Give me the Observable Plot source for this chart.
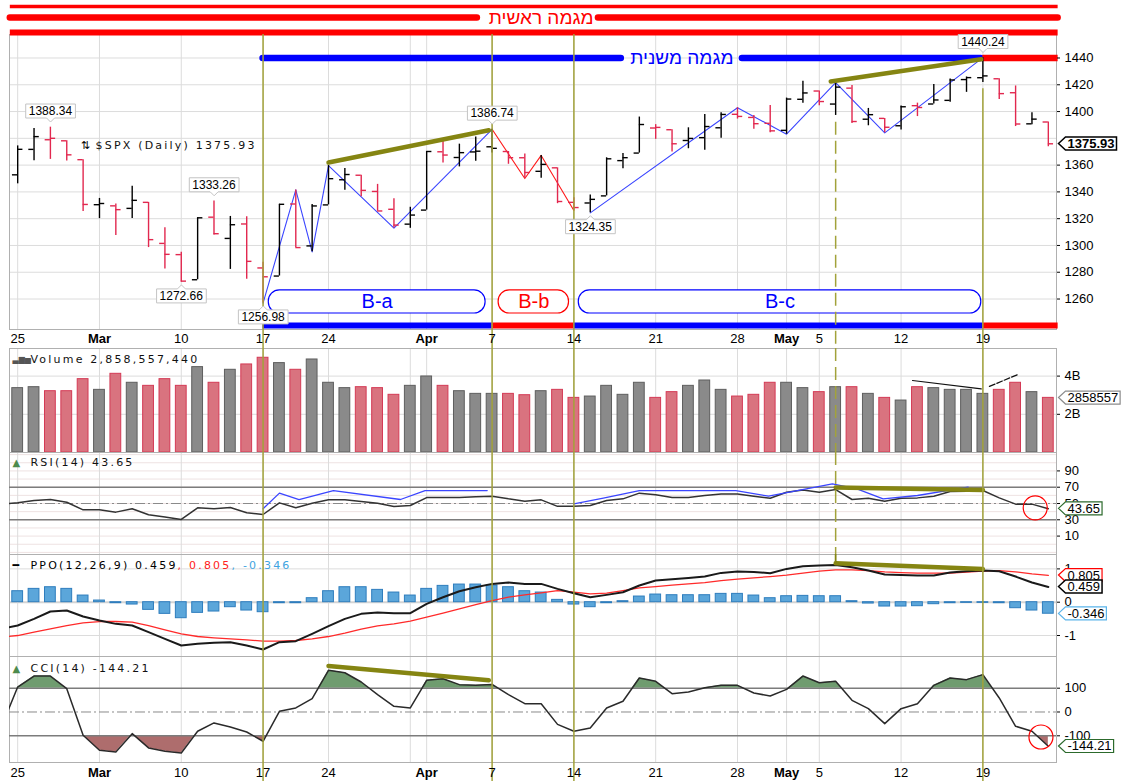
<!DOCTYPE html>
<html lang="en">
<head>
<meta charset="utf-8">
<title>$SPX daily</title>
<script src="https://cdn.jsdelivr.net/npm/d3@7"></script>
<script src="https://cdn.jsdelivr.net/npm/@observablehq/plot@0.6"></script>
<style>
html,body{margin:0;padding:0;background:#fff;}
#chart{position:relative;width:1122px;height:781px;overflow:hidden;background:#fff;}
#chart svg{position:absolute;left:0;overflow:visible;}
</style>
</head>
<body>
<div id="chart"></div>
<script>
// ---------------- DATA ----------------
const dates = ["2008-02-25","2008-02-26","2008-02-27","2008-02-28","2008-02-29",
"2008-03-03","2008-03-04","2008-03-05","2008-03-06","2008-03-07","2008-03-10","2008-03-11","2008-03-12","2008-03-13","2008-03-14","2008-03-17","2008-03-18","2008-03-19","2008-03-20","2008-03-24","2008-03-25","2008-03-26","2008-03-27","2008-03-28","2008-03-31",
"2008-04-01","2008-04-02","2008-04-03","2008-04-04","2008-04-07","2008-04-08","2008-04-09","2008-04-10","2008-04-11","2008-04-14","2008-04-15","2008-04-16","2008-04-17","2008-04-18","2008-04-21","2008-04-22","2008-04-23","2008-04-24","2008-04-25","2008-04-28","2008-04-29","2008-04-30",
"2008-05-01","2008-05-02","2008-05-05","2008-05-06","2008-05-07","2008-05-08","2008-05-09","2008-05-12","2008-05-13","2008-05-14","2008-05-15","2008-05-16","2008-05-19","2008-05-20","2008-05-21","2008-05-22","2008-05-23"];

const open = [1352.75,1371.76,1378.95,1378.16,1364.07,
1330.45,1329.58,1327.69,1332.20,1301.53,1293.16,1274.40,1321.13,1305.26,1316.05,1283.21,1277.16,1330.97,1299.67,1330.29,1349.07,1352.45,1340.34,1327.02,1315.92,
1326.41,1369.96,1365.69,1369.85,1373.69,1370.16,1365.50,1355.37,1357.98,1332.20,1331.72,1337.02,1363.37,1369.00,1387.72,1386.43,1378.40,1380.52,1387.88,1397.96,1395.61,1391.22,
1385.97,1409.16,1415.34,1405.60,1417.49,1394.29,1394.90,1389.40,1404.40,1405.65,1408.36,1423.89,1425.28,1424.49,1414.06,1390.83,1392.20];
const high = [1374.36,1387.34,1388.34,1378.16,1364.07,
1335.13,1331.03,1344.19,1332.20,1313.24,1295.01,1320.65,1333.26,1321.68,1321.47,1287.50,1330.74,1341.51,1330.67,1359.68,1357.47,1352.45,1345.62,1334.87,1328.52,
1370.18,1377.95,1375.66,1380.91,1386.74,1370.16,1368.39,1367.24,1357.98,1335.64,1337.72,1365.49,1368.60,1395.90,1390.23,1386.43,1387.87,1397.72,1399.11,1402.90,1397.00,1404.57,
1410.07,1422.72,1415.34,1421.57,1419.54,1402.35,1394.90,1404.06,1406.30,1420.19,1424.40,1425.82,1440.24,1424.49,1419.12,1399.07,1392.20];
const low = [1346.03,1363.29,1364.27,1363.16,1325.42,
1320.04,1307.39,1320.22,1298.42,1282.43,1272.66,1274.40,1307.86,1282.11,1274.86,1256.98,1277.16,1298.42,1295.22,1330.29,1341.21,1336.41,1325.66,1312.95,1312.81,
1326.41,1361.55,1358.68,1362.83,1369.02,1360.62,1349.97,1350.11,1331.21,1326.16,1324.35,1337.02,1357.25,1369.00,1379.25,1369.84,1372.24,1371.09,1379.98,1394.40,1386.70,1384.25,
1383.07,1406.25,1404.37,1397.10,1391.16,1389.39,1384.11,1386.20,1396.26,1405.65,1406.87,1414.35,1421.63,1409.09,1388.81,1390.23,1373.72];
const close = [1371.80,1381.29,1380.02,1367.68,1330.63,
1331.34,1326.75,1333.70,1304.34,1293.37,1273.37,1320.65,1308.77,1315.48,1288.14,1276.60,1330.74,1298.42,1329.51,1349.88,1352.99,1341.13,1325.76,1315.22,1322.70,
1370.18,1367.53,1369.31,1370.40,1372.54,1365.54,1354.49,1360.55,1332.83,1328.32,1334.43,1364.71,1365.56,1390.33,1388.17,1375.94,1379.93,1388.82,1397.84,1396.37,1390.94,1385.59,
1409.34,1413.90,1407.49,1418.26,1392.57,1397.68,1388.28,1403.58,1403.04,1408.66,1423.57,1425.35,1426.63,1413.40,1390.71,1394.35,1375.93];
const prevClose = 1353.11;

// volume in billions of shares
const volumeB = [3.37,3.42,3.21,3.21,3.84,
3.28,4.12,3.65,3.49,3.84,3.49,4.47,3.65,4.33,4.61,4.96,4.68,4.33,4.87,3.65,3.37,3.42,3.37,3.02,3.49,
3.98,3.49,3.21,3.07,3.07,3.07,3.00,3.21,3.28,2.86,2.93,3.49,3.02,3.65,2.86,3.16,3.49,3.77,3.28,2.93,3.02,3.65,
3.65,3.37,3.16,3.42,3.42,3.07,2.86,2.72,3.42,3.37,3.28,3.28,3.07,3.28,3.65,3.16,2.86];

const rsi14 = [50.8,53.7,54.9,51.6,42.2,
42.2,39.4,43.5,36.1,33.3,30.4,44.7,43.5,45.1,38.6,36.5,50.8,44.7,50.4,54.5,54.5,52.4,50.4,46.3,47.6,
57.3,57.3,57.3,58.2,59.0,55.7,52.9,54.5,46.5,46.7,47.6,53.7,55.7,62.7,60.6,57.3,57.3,59.8,61.8,61.8,59.0,56.5,
63.9,66.7,63.9,67.1,54.9,56.5,52.9,56.5,56.9,59.0,64.7,65.1,65.9,56.9,49.2,49.2,43.65];

const ppoLine = [-0.70,-0.50,-0.28,-0.25,-0.43,
-0.55,-0.65,-0.70,-0.90,-1.10,-1.30,-1.25,-1.22,-1.20,-1.30,-1.42,-1.20,-1.17,-0.95,-0.72,-0.50,-0.35,-0.31,-0.33,-0.33,
-0.05,0.15,0.33,0.45,0.55,0.59,0.55,0.55,0.40,0.27,0.15,0.22,0.30,0.50,0.65,0.69,0.73,0.77,0.88,0.92,0.91,0.87,
1.00,1.08,1.10,1.12,1.05,0.95,0.83,0.82,0.80,0.80,0.89,0.93,0.95,0.93,0.77,0.59,0.459];
const ppoSignal = [-1.00,-0.90,-0.80,-0.70,-0.62,
-0.58,-0.58,-0.60,-0.70,-0.83,-0.95,-1.03,-1.07,-1.10,-1.13,-1.17,-1.17,-1.15,-1.10,-1.03,-0.93,-0.81,-0.71,-0.65,-0.57,
-0.45,-0.33,-0.20,-0.07,0.05,0.15,0.22,0.28,0.35,0.30,0.25,0.27,0.35,0.43,0.47,0.51,0.55,0.59,0.65,0.69,0.73,0.77,
0.81,0.87,0.93,0.97,0.97,0.95,0.91,0.89,0.87,0.87,0.87,0.90,0.93,0.95,0.91,0.85,0.805];
const ppoHist = [0.33,0.40,0.45,0.40,0.20,
0.05,-0.03,-0.07,-0.23,-0.35,-0.48,-0.32,-0.28,-0.15,-0.25,-0.30,-0.03,-0.03,0.12,0.33,0.45,0.45,0.37,0.29,0.20,
0.40,0.49,0.53,0.53,0.50,0.45,0.33,0.29,0.07,-0.07,-0.15,-0.03,0.03,0.17,0.23,0.21,0.21,0.21,0.25,0.25,0.20,0.12,
0.18,0.19,0.18,0.18,0.03,-0.04,-0.13,-0.13,-0.12,-0.06,-0.03,-0.02,-0.02,-0.03,-0.18,-0.25,-0.346];

const cci14 = [105,151,151,98,-98,
-161,-168,-91,-151,-165,-172,-81,-46,-63,-84,-123,3,17,56,175,165,126,73,24,17,
133,140,115,112,116,73,35,35,-52,-81,-67,17,45,143,129,77,84,102,112,112,80,67,
95,151,123,129,49,14,-49,14,35,112,143,136,157,59,-60,-81,-144.21];

// values of the day before the first shown day (lines enter from the left edge)
const leadRsi = 49.5, leadPpo = -0.80, leadSignal = -1.05, leadCci = -64;

// axis ticks / labels
const gridDays = [0,5,10,15,19,24,25,29,34,39,44,47,49,54,59];
const dayTickIdx = [0,10,15,19,29,34,39,44,49,54,59];
const dayTickLabels = ["25","10","17","24","7","14","21","28","5","12","19"];
const monthTickIdx = [5,25,47];
const monthTickLabels = ["Mar","Apr","May"];
const priceGrid = [1260,1280,1300,1320,1340,1360,1380,1400,1420,1440];
const priceTicks = [1260,1280,1300,1320,1340,1360,1400,1420,1440]; // 1380 sits under the last-price tag
const volTicks = [2,4];
const rsiTicks = [10,30,50,70,90];
const rsiBands = [30,70];
const ppoTicks = [1,0,-1];
const cciTicks = [100,0,-100];
const cciBands = [100,-100];

// titles
const priceTitle = "$SPX (Daily) 1375.93";
const volumeTitle = "Volume 2,858,557,440";
const rsiTitle = "RSI(14) 43.65";
const ppoTitleParts = ["PPO(12,26,9) 0.459", ", 0.805", ", -0.346"];
const cciTitle = "CCI(14) -144.21";
const lastVolumeB = 2.858557, lastVolumeLabel = "2858557";

// annotations (data units: x = trading-day index, y = indicator value)
const pivotDays = [15, 29, 34, 59];
const lateDayTopPrice = 1417;
const dashedDay = 50;
const dashedTopPrice = 1392;
const dashedPpoEnd = 1.17;

const primaryTrendText = "מגמה ראשית";
const primaryTrendLevels = [1478.5, 1470.2, 1459.0];
const primaryTrendSpan = [-0.45, 63.6];
const primaryTrendGap = [28.1, 35.5];
const primaryTrendTextX = 32.0;

const secondaryTrendText = "מגמה משנית";
const secondaryTrendLevel = 1440;
const secondaryTrendBlue = [[15, 36.9], [44.3, 58.9]];
const secondaryTrendRed = [[59, 63.6]];
const secondaryTrendTextX = 40.6;

const phaseLevel = 1240.2;
const phaseUp = [[15, 29], [34, 59]];
const phaseDown = [[29, 34], [59, 63.6]];

const zigBlueA = [[15,1256.98],[17,1341.51],[18,1295.22],[19,1359.68],[23,1312.95],[29,1386.74]];
const zigRedB = [[29,1386.74],[31,1349.97],[32,1367.24],[34,1326.16]];
const zigBlueC = [[35,1324.35],[44,1402.90],[47,1383.07],[50,1421.57],[53,1384.11],[59,1440.24]];
const priceOliveA = [[19,1362],[28.8,1386]];
const priceOliveB = [[49.7,1422.5],[58.9,1439]];

const waves = ["B-a","B-b","B-c"];
const waveFrom = [15.35, 29.4, 34.3];
const waveTo = [28.6, 33.7, 58.9];
const waveLow = 1249.2, waveHigh = 1266.4;

const calloutHighDays = [2, 12, 29, 59];
const calloutLowDays = [10, 15, 35];

const volLineDown = [[54.7,3.77],[58.9,3.33]];
const volLineUp = [[59.4,3.46],[61.1,4.07]];

const rsiBlueA = [[15,43.5],[16,62.7],[17.2,54.9],[19.3,65.9],[23.4,54.9],[24.9,65.9],[28.7,65.9]];
const rsiBlueB = [[34,49.6],[35.8,56.5],[38,65.9],[43.9,65.9],[45.9,59],[49.8,74.1],[51.3,68],[52.9,55.7],[55,59.8],[58.1,70]];
const rsiOlive = [[50,69.5],[59,66.5]];
const rsiCircle = [[62.2,44.7]];

const ppoOlive = [[50,1.17],[59,1.0]];
const cciOlive = [[19,193],[28.8,133]];
const cciCircle = [[62.55,-105]];

// ---------------- STYLE ----------------
const FONT_UI = "'Liberation Sans', Arial, sans-serif";
const FONT_T = "'DejaVu Sans', Verdana, sans-serif";
const FONT_HE = "'Liberation Sans', 'DejaVu Sans', sans-serif";
const GRID = "#dcdcdc";
const FRAME = "#b0b0b0";
const OLIVE = "#858512";
const OLIVE_V = "#a2a23a";
const BLUE = "#0000ff";
const ZBLUE = "#3a45ff";
const RED = "#ff0000";
const UP = "#000000", DOWN = "#e2284f";
const X_DOMAIN = [-0.5, 63.5];

// ---------------- HELPERS ----------------
const chart = document.getElementById("chart");
const SVGNS = "http://www.w3.org/2000/svg";
const idx = dates.map((d, i) => i);
const isUp = i => close[i] >= (i ? close[i - 1] : prevClose);

function ext(domain, height, mt, mb) {
  const k = (domain[1] - domain[0]) / (height - mt - mb);
  return [domain[0] - mb * k, domain[1] + mt * k];
}
function build(height, mt, mb, domain, marks) {
  return Plot.plot({
    width: 1122, height, marginLeft: 9, marginRight: 66, marginTop: mt, marginBottom: mb,
    x: {domain: X_DOMAIN, axis: null},
    y: {domain, label: null},
    style: {fontFamily: FONT_UI, fontSize: "13px", background: "transparent", overflow: "visible", color: "#000"},
    marks
  });
}
function boxes(g, {stroke = "#c4c4c4", fill = "#fff", pointer = null, px = 3, py = 0, sw = 1}) {
  g.querySelectorAll("text").forEach(t => {
    const b = t.getBBox();
    const x0 = b.x - px, x1 = b.x + b.width + px, y0 = b.y - py, y1 = b.y + b.height + py;
    const mx = (x0 + x1) / 2, my = (y0 + y1) / 2;
    let d;
    if (pointer === "left") d = `M${x0 - 7},${my}L${x0},${y0}H${x1}V${y1}H${x0}Z`;
    else if (pointer === "down") d = `M${x0},${y0}H${x1}V${y1}H${mx + 4}L${mx},${y1 + 4}L${mx - 4},${y1}H${x0}Z`;
    else if (pointer === "up") d = `M${x0},${y0}H${mx - 4}L${mx},${y0 - 4}L${mx + 4},${y0}H${x1}V${y1}H${x0}Z`;
    else d = `M${x0},${y0}H${x1}V${y1}H${x0}Z`;
    const p = document.createElementNS(SVGNS, "path");
    p.setAttribute("d", d); p.setAttribute("fill", fill); p.setAttribute("stroke", stroke); p.setAttribute("stroke-width", sw);
    const tr = t.getAttribute("transform"); if (tr) p.setAttribute("transform", tr);
    t.parentNode.insertBefore(p, t);
  });
}
function mount(svg, top) {
  svg.style.top = top + "px";
  chart.appendChild(svg);
  svg.querySelectorAll("g[aria-description]").forEach(g => {
    const desc = g.getAttribute("aria-description");
    if (desc === "ppotitle") {
      const t = g.querySelector("text");
      const colors = ["#000000", "#ff2020", "#3fa3e0"];
      t.textContent = "";
      ppoTitleParts.forEach((s, k) => {
        const ts = document.createElementNS(SVGNS, "tspan");
        ts.textContent = s; ts.setAttribute("fill", colors[k]); t.appendChild(ts);
      });
    }
    if (desc === "title" || desc === "ppotitle") g.querySelectorAll("text").forEach(t => t.setAttribute("letter-spacing", "2.2"));
    if (desc.startsWith("tag:")) boxes(g, {stroke: desc.slice(4), pointer: "left", px: 2, py: -1, sw: desc.endsWith("#000") ? 1.5 : 1.2});
    if (desc === "callout-down") boxes(g, {pointer: "down"});
    if (desc === "callout-up") boxes(g, {pointer: "up"});
  });
  return svg;
}
const P2 = {x: d => d[0], y: d => d[1]};
function tag(value, label, color, bold) {
  return Plot.text([label], {y: value, text: d => d, frameAnchor: "right", dx: 11, textAnchor: "start",
    fontSize: 13, fontWeight: bold ? "bold" : "normal", fill: "#000", ariaDescription: "tag:" + color});
}
function title(str, dy) {
  return Plot.text([str], {text: d => d, frameAnchor: "top-left", dx: 21, dy, lineAnchor: "middle", textAnchor: "start",
    fontFamily: FONT_T, fontSize: 11, fill: "#111", ariaDescription: "title"});
}
function icon(glyph, dy, color, size) {
  return Plot.text([glyph], {text: d => d, frameAnchor: "top-left", dx: 3, dy, lineAnchor: "middle", textAnchor: "start",
    fontFamily: FONT_T, fontSize: size, fill: color});
}
function yAxis(ticks, fmt) {
  return Plot.axisY(ticks, {anchor: "right", label: null, tickSize: 3, tickPadding: 5, fontSize: 13, tickFormat: fmt || (d => String(d))});
}
function dateLabels(dy) {
  return [
    Plot.text(dayTickIdx, {x: d => d, text: (d, k) => dayTickLabels[k], frameAnchor: "bottom", lineAnchor: "middle", dy, fontSize: 13}),
    Plot.text(monthTickIdx, {x: d => d, text: (d, k) => monthTickLabels[k], frameAnchor: "bottom", lineAnchor: "middle", dy, fontSize: 13, fontWeight: "bold"})
  ];
}
function bandPoints(xs, vs, thr, above) {
  const pts = [];
  for (let k = 0; k < vs.length; k++) {
    if (k > 0) {
      const u = vs[k - 1], v = vs[k];
      if ((u - thr) * (v - thr) < 0) {
        const t = (thr - u) / (v - u);
        pts.push({x: xs[k - 1] + t * (xs[k] - xs[k - 1]), y: thr});
      }
    }
    pts.push({x: xs[k], y: above ? Math.max(vs[k], thr) : Math.min(vs[k], thr)});
  }
  return pts;
}
const withLead = (lead, arr) => [{i: -1, v: lead}, ...arr.map((v, i) => ({i, v}))];

// ---------------- PRICE PANEL ----------------
const bars = idx.map(i => ({i, o: open[i], h: high[i], l: low[i], c: close[i], up: isUp(i)}));
const upBars = bars.filter(d => d.up), dnBars = bars.filter(d => !d.up);
const P = {top: 0, h: 348, mt: 34, mb: 19, domain: [1237.24, 1457.55]};
const [pLo] = ext(P.domain, P.h, P.mt, P.mb);
const ohlc = (data, color) => [
  Plot.ruleX(data, {x: "i", y1: "l", y2: "h", stroke: color, strokeWidth: 1.4}),
  Plot.ruleY(data, {y: "o", x1: d => d.i - 0.32, x2: "i", stroke: color, strokeWidth: 1.4}),
  Plot.ruleY(data, {y: "c", x1: "i", x2: d => d.i + 0.32, stroke: color, strokeWidth: 1.4})
];
const waveRows = waves.map((w, k) => ({w, x1: waveFrom[k], x2: waveTo[k]}));
mount(build(P.h, P.mt, P.mb, P.domain, [
  Plot.ruleY(priceGrid, {stroke: GRID}),
  Plot.ruleX(gridDays, {stroke: GRID}),
  Plot.frame({stroke: FRAME}),
  // primary trend (top red lines)
  Plot.ruleY([primaryTrendLevels[0]], {x1: primaryTrendSpan[0], x2: primaryTrendSpan[1], stroke: RED, strokeWidth: 3.5}),
  Plot.ruleY([[primaryTrendSpan[0], primaryTrendGap[0]], [primaryTrendGap[1], primaryTrendSpan[1]]],
    {y: primaryTrendLevels[1], x1: d => d[0], x2: d => d[1], stroke: RED, strokeWidth: 6.5, strokeLinecap: "round"}),
  Plot.ruleY([primaryTrendLevels[2]], {x1: primaryTrendSpan[0], x2: primaryTrendSpan[1], stroke: RED, strokeWidth: 6}),
  Plot.text([primaryTrendText], {x: primaryTrendTextX, y: primaryTrendLevels[1], text: d => d, fill: RED, fontSize: 19, fontFamily: FONT_HE}),
  // secondary trend
  Plot.ruleY(secondaryTrendBlue, {y: secondaryTrendLevel, x1: d => d[0], x2: d => d[1], stroke: BLUE, strokeWidth: 6.5, strokeLinecap: "round"}),
  Plot.ruleY(secondaryTrendRed, {y: secondaryTrendLevel, x1: d => d[0], x2: d => d[1], stroke: RED, strokeWidth: 6.5}),
  Plot.text([secondaryTrendText], {x: secondaryTrendTextX, y: secondaryTrendLevel, text: d => d, fill: BLUE, fontSize: 19, fontFamily: FONT_HE}),
  // phase bar at bottom
  Plot.ruleY(phaseUp, {y: phaseLevel, x1: d => d[0], x2: d => d[1], stroke: BLUE, strokeWidth: 6}),
  Plot.ruleY(phaseDown, {y: phaseLevel, x1: d => d[0], x2: d => d[1], stroke: RED, strokeWidth: 6}),
  // wave boxes
  Plot.rect(waveRows, {x1: "x1", x2: "x2", y1: waveLow, y2: waveHigh, rx: 11, fill: "#fff",
    stroke: d => d.w === "B-b" ? "red" : "blue", strokeWidth: 1.2}),
  Plot.text(waveRows, {x: d => (d.x1 + d.x2) / 2, y: (waveLow + waveHigh) / 2, text: "w",
    fill: d => d.w === "B-b" ? "red" : "blue", fontSize: 20, fontFamily: FONT_UI}),
  // zigzags
  Plot.line(zigBlueA, {...P2, stroke: ZBLUE, strokeWidth: 1.1}),
  Plot.line(zigRedB, {...P2, stroke: "#ff1a1a", strokeWidth: 1.1}),
  Plot.line(zigBlueC, {...P2, stroke: ZBLUE, strokeWidth: 1.1}),
  // OHLC bars
  ...ohlc(upBars, UP),
  ...ohlc(dnBars, DOWN),
  // olive trend lines
  Plot.line(priceOliveA, {...P2, stroke: OLIVE, strokeWidth: 4.5}),
  Plot.line(priceOliveB, {...P2, stroke: OLIVE, strokeWidth: 4.5}),
  // olive verticals
  Plot.ruleX(pivotDays.slice(0, 3), {y1: P.domain[1], y2: pLo, stroke: OLIVE_V, strokeWidth: 1.5}),
  Plot.ruleX([pivotDays[3]], {y1: lateDayTopPrice, y2: pLo, stroke: OLIVE_V, strokeWidth: 1.5}),
  Plot.ruleX([dashedDay], {y1: dashedTopPrice, y2: pLo, stroke: OLIVE_V, strokeWidth: 1.5, strokeDasharray: "13,6"}),
  // callouts
  Plot.text(calloutHighDays, {x: d => d, y: d => high[d], text: d => high[d].toFixed(2), dy: -16, fontSize: 12, ariaDescription: "callout-down"}),
  Plot.text(calloutLowDays, {x: d => d, y: d => low[d], text: d => low[d].toFixed(2), dy: 14, fontSize: 12, ariaDescription: "callout-up"}),
  // title
  Plot.text(["⇅"], {x: 3.85, y: 1374.65, text: d => d, textAnchor: "start", fontFamily: FONT_T, fontSize: 11}),
  Plot.text([priceTitle], {x: 4.76, y: 1374.65, text: d => d, textAnchor: "start", fontFamily: FONT_T, fontSize: 11, fill: "#111", ariaDescription: "title"}),
  // axes
  yAxis(priceTicks),
  ...dateLabels(9.5),
  tag(close[63], close[63].toFixed(2), "#000", true)
]), P.top);

// ---------------- VOLUME PANEL ----------------
const vols = idx.map(i => ({i, v: volumeB[i], up: isUp(i)}));
const V = {top: 348, h: 104, domain: [0, 5.445]};
mount(build(V.h, 0, 0, V.domain, [
  Plot.ruleY(volTicks, {stroke: GRID}),
  Plot.ruleX(gridDays, {stroke: GRID}),
  Plot.frame({stroke: FRAME}),
  Plot.rect(vols.filter(d => d.up), {x1: d => d.i - 0.33, x2: d => d.i + 0.33, y1: 0, y2: "v", fill: "#8a8a8a", stroke: "#5e5e5e", strokeWidth: 1}),
  Plot.rect(vols.filter(d => !d.up), {x1: d => d.i - 0.33, x2: d => d.i + 0.33, y1: 0, y2: "v", fill: "#d9737f", stroke: "#d43a55", strokeWidth: 1}),
  Plot.line(volLineDown, {...P2, stroke: "#111", strokeWidth: 1.2}),
  Plot.line(volLineUp, {...P2, stroke: "#111", strokeWidth: 1.2, strokeDasharray: "6,2"}),
  Plot.ruleX(pivotDays, {stroke: OLIVE_V, strokeWidth: 1.5}),
  Plot.ruleX([dashedDay], {stroke: OLIVE_V, strokeWidth: 1.5, strokeDasharray: "13,6"}),
  yAxis(volTicks, d => d + "B"),
  icon("▃▆▅", 11, "#555", 8),
  title(volumeTitle, 11),
  tag(lastVolumeB, lastVolumeLabel, "#8c8c8c", false)
]), V.top);

// ---------------- RSI PANEL ----------------
const R = {top: 452, h: 102, domain: [-12.6, 112.6]};
mount(build(R.h, 0, 0, R.domain, [
  Plot.ruleY(d3.range(-10, 111, 10), {stroke: "#eee2e2"}),
  Plot.ruleX(gridDays, {stroke: GRID}),
  Plot.frame({stroke: FRAME}),
  Plot.ruleY(rsiBands, {stroke: "#7c7c7c", strokeWidth: 1.4}),
  Plot.ruleY([50], {stroke: "#8a8a8a", strokeWidth: 1, strokeDasharray: "10,3,2,3"}),
  Plot.line(withLead(leadRsi, rsi14), {x: "i", y: "v", stroke: "#333", strokeWidth: 1.5, clip: true}),
  Plot.line(rsiBlueA, {...P2, stroke: ZBLUE, strokeWidth: 1.3}),
  Plot.line(rsiBlueB, {...P2, stroke: ZBLUE, strokeWidth: 1.3}),
  Plot.line(rsiOlive, {...P2, stroke: OLIVE, strokeWidth: 4.5}),
  Plot.ruleX(pivotDays, {stroke: OLIVE_V, strokeWidth: 1.5}),
  Plot.ruleX([dashedDay], {stroke: OLIVE_V, strokeWidth: 1.5, strokeDasharray: "13,6"}),
  Plot.dot(rsiCircle, {...P2, r: 12, stroke: "red", strokeWidth: 1.2, fill: "none"}),
  yAxis(rsiTicks),
  icon("▲", 10, "#4c8a4c", 10),
  title(rsiTitle, 10),
  tag(rsi14[63], rsi14[63].toFixed(2), "#2c6a2c", false)
]), R.top);

// ---------------- PPO PANEL ----------------
const Q = {top: 554, h: 102, domain: [-1.63, 1.432]};
const hist = idx.map(i => ({i, h: ppoHist[i]}));
mount(build(Q.h, 0, 0, Q.domain, [
  Plot.ruleY([1, -1], {stroke: GRID}),
  Plot.ruleY([0], {stroke: "#d4d4d4", strokeWidth: 2}),
  Plot.ruleX(gridDays, {stroke: GRID}),
  Plot.frame({stroke: FRAME}),
  Plot.rect(hist, {x1: d => d.i - 0.33, x2: d => d.i + 0.33, y1: 0, y2: "h", fill: "#5ba6da", stroke: "#2e7dbd", strokeWidth: 1}),
  Plot.line(withLead(leadSignal, ppoSignal), {x: "i", y: "v", stroke: "#ff2a2a", strokeWidth: 1.3, clip: true}),
  Plot.line(withLead(leadPpo, ppoLine), {x: "i", y: "v", stroke: "#1a1a1a", strokeWidth: 2, clip: true}),
  Plot.line(ppoOlive, {...P2, stroke: OLIVE, strokeWidth: 4.5}),
  Plot.ruleX(pivotDays, {stroke: OLIVE_V, strokeWidth: 1.5}),
  Plot.ruleX([dashedDay], {y1: dashedPpoEnd, y2: Q.domain[1], stroke: OLIVE, strokeWidth: 1.8}),
  yAxis(ppoTicks),
  icon("━", 11, "#000", 11),
  Plot.text([ppoTitleParts.join("")], {text: d => d, frameAnchor: "top-left", dx: 21, dy: 11, lineAnchor: "middle", textAnchor: "start",
    fontFamily: FONT_T, fontSize: 11, ariaDescription: "ppotitle"}),
  tag(ppoSignal[63], ppoSignal[63].toFixed(3), "#ff0000", false),
  tag(ppoLine[63], ppoLine[63].toFixed(3), "#000", false),
  tag(ppoHist[63], ppoHist[63].toFixed(3), "#5ab4ea", false)
]), Q.top);

// ---------------- CCI PANEL ----------------
const C = {top: 656, h: 125, mt: 0, mb: 19, domain: [-212.2, 233.2]};
const [cLo, cHi] = ext(C.domain, C.h, C.mt, C.mb);
const cciX = [-1, ...idx], cciV = [leadCci, ...cci14];
mount(build(C.h, C.mt, C.mb, C.domain, [
  Plot.ruleX(gridDays, {stroke: GRID}),
  Plot.frame({stroke: FRAME}),
  Plot.area(bandPoints(cciX, cciV, 100, true), {x1: "x", y1: 100, y2: "y", fill: "#6f9c6f", clip: true}),
  Plot.area(bandPoints(cciX, cciV, -100, false), {x1: "x", y1: -100, y2: "y", fill: "#ae6d6d", clip: true}),
  Plot.ruleY(cciBands, {stroke: "#7c7c7c", strokeWidth: 1.4}),
  Plot.ruleY([0], {stroke: "#8a8a8a", strokeWidth: 1, strokeDasharray: "10,3,2,3"}),
  Plot.line(cciX.map((x, k) => ({x, v: cciV[k]})), {x: "x", y: "v", stroke: "#2a2a2a", strokeWidth: 1.5, clip: true}),
  Plot.line(cciOlive, {...P2, stroke: OLIVE, strokeWidth: 4.5}),
  Plot.ruleX(pivotDays, {y1: cHi, y2: cLo, stroke: OLIVE_V, strokeWidth: 1.5}),
  Plot.dot(cciCircle, {...P2, r: 12, stroke: "red", strokeWidth: 1.2, fill: "none"}),
  yAxis(cciTicks),
  ...dateLabels(10),
  icon("▲", 12, "#4c8a4c", 10),
  title(cciTitle, 12),
  tag(cci14[63], cci14[63].toFixed(2), "#2c6a2c", false)
]), C.top);
</script>
</body>
</html>
